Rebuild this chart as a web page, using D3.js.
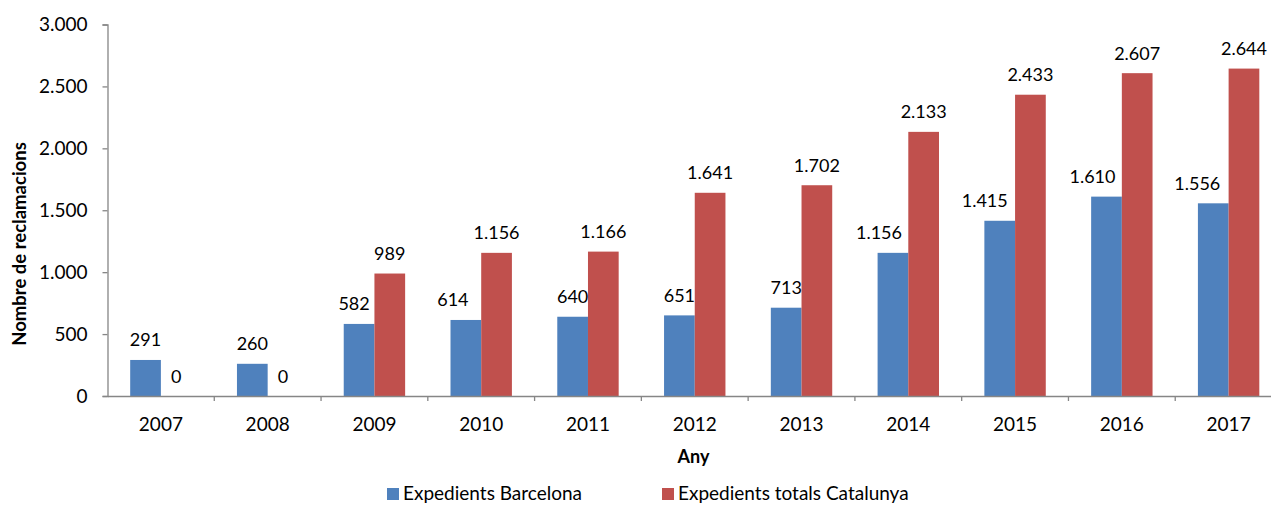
<!DOCTYPE html>
<html>
<head>
<meta charset="utf-8">
<script src="https://cdn.jsdelivr.net/npm/d3@7"></script>
<style>
  body { margin: 0; background: #fff; }
  svg { font-family: Lato, "Open Sans", sans-serif; }
</style>
</head>
<body>
<svg width="1271" height="506"></svg>
<script>
var years = ["2007", "2008", "2009", "2010", "2011", "2012", "2013", "2014", "2015", "2016", "2017"];
var barcelona = [291, 260, 582, 614, 640, 651, 713, 1156, 1415, 1610, 1556];
var catalunya = [0, 0, 989, 1156, 1166, 1641, 1702, 2133, 2433, 2607, 2644];
var seriesNames = ["Expedients Barcelona", "Expedients totals Catalunya"];
var colors = ["#4F81BD", "#C0504D"];
var yTicks = [0, 500, 1000, 1500, 2000, 2500, 3000];

// the Barcelona labels were nudged left by hand in the original
var blueLabelShift = [0, 0, -5, -13, 0, 0, 0, -14, -15, -14, -16];

var formatNum = d3.formatLocale({decimal: ",", thousands: ".", grouping: [3], currency: ["", "€"]}).format(",d");

var svg = d3.select("svg");
var axisColor = "#868686";

// scales
var x = d3.scaleBand()
	.domain(years)
	.range([107.5, 1282]);

var y = d3.scaleLinear()
	.domain([0, 3000])
	.range([396, 24.5]);

var inner = d3.scaleBand()
	.domain([0, 1])
	.range([0, 61.4]);
var groupOffset = (x.bandwidth() - 61.4) / 2;

// bars
var rows = years.map(function(yr, i) {
	return {year: yr, vals: [barcelona[i], catalunya[i]], shift: [blueLabelShift[i], 0]};
});

var groups = svg.selectAll("g.year")
	.data(rows)
	.enter().append("g")
	.attr("class", "year")
	.attr("transform", function(d) { return "translate(" + (x(d.year) + groupOffset) + ",0)"; });

groups.selectAll("rect")
	.data(function(d) { return d.vals; })
	.enter().append("rect")
	.attr("x", function(d, i) { return inner(i); })
	.attr("y", function(d) { return y(d); })
	.attr("width", inner.bandwidth())
	.attr("height", function(d) { return y(0) - y(d); })
	.attr("fill", function(d, i) { return colors[i]; });

// data labels
groups.selectAll("text")
	.data(function(d) { return d.vals.map(function(v, i) { return {v: v, s: d.shift[i]}; }); })
	.enter().append("text")
	.attr("x", function(d, i) { return inner(i) + inner.bandwidth() / 2 + d.s; })
	.attr("y", function(d) { return y(d.v) - 13.5; })
	.attr("text-anchor", "middle")
	.attr("font-size", 18)
	.attr("fill", "#000")
	.text(function(d) { return formatNum(d.v); });

// y axis
var yAxis = d3.axisLeft(y)
	.tickValues(yTicks)
	.tickSize(5)
	.tickPadding(15)
	.tickFormat(formatNum);

var gy = svg.append("g")
	.attr("transform", "translate(107.5,0)")
	.call(yAxis);

// x axis
var xAxis = d3.axisBottom(x)
	.tickSize(0)
	.tickPadding(22);

var gx = svg.append("g")
	.attr("transform", "translate(0,396)")
	.call(xAxis);

// category boundary ticks
gx.selectAll("line.sep")
	.data(years.slice(1))
	.enter().append("line")
	.attr("class", "sep")
	.attr("x1", function(d) { return x(d); })
	.attr("x2", function(d) { return x(d); })
	.attr("y1", 0)
	.attr("y2", 5);

svg.selectAll(".domain, line").attr("stroke", axisColor).attr("stroke-width", 1.3);
svg.selectAll(".tick text").attr("font-size", 19).attr("fill", "#000").attr("font-family", "Lato, sans-serif");

// axis titles
svg.append("text")
	.attr("x", 693.5)
	.attr("y", 463)
	.attr("text-anchor", "middle")
	.attr("font-weight", "bold")
	.attr("font-size", 18)
	.text("Any");

svg.append("text")
	.attr("transform", "translate(26,244) rotate(-90)")
	.attr("text-anchor", "middle")
	.attr("font-weight", "bold")
	.attr("font-size", 18.5)
	.text("Nombre de reclamacions");

// legend
var legendX = [387, 662];
var legend = svg.selectAll("g.legend")
	.data(seriesNames)
	.enter().append("g")
	.attr("class", "legend")
	.attr("transform", function(d, i) { return "translate(" + legendX[i] + ",488)"; });

legend.append("rect")
	.attr("width", 12)
	.attr("height", 12)
	.attr("fill", function(d, i) { return colors[i]; });

legend.append("text")
	.attr("x", 16)
	.attr("y", 12)
	.attr("font-size", 19)
	.text(function(d) { return d; });
</script>
</body>
</html>
